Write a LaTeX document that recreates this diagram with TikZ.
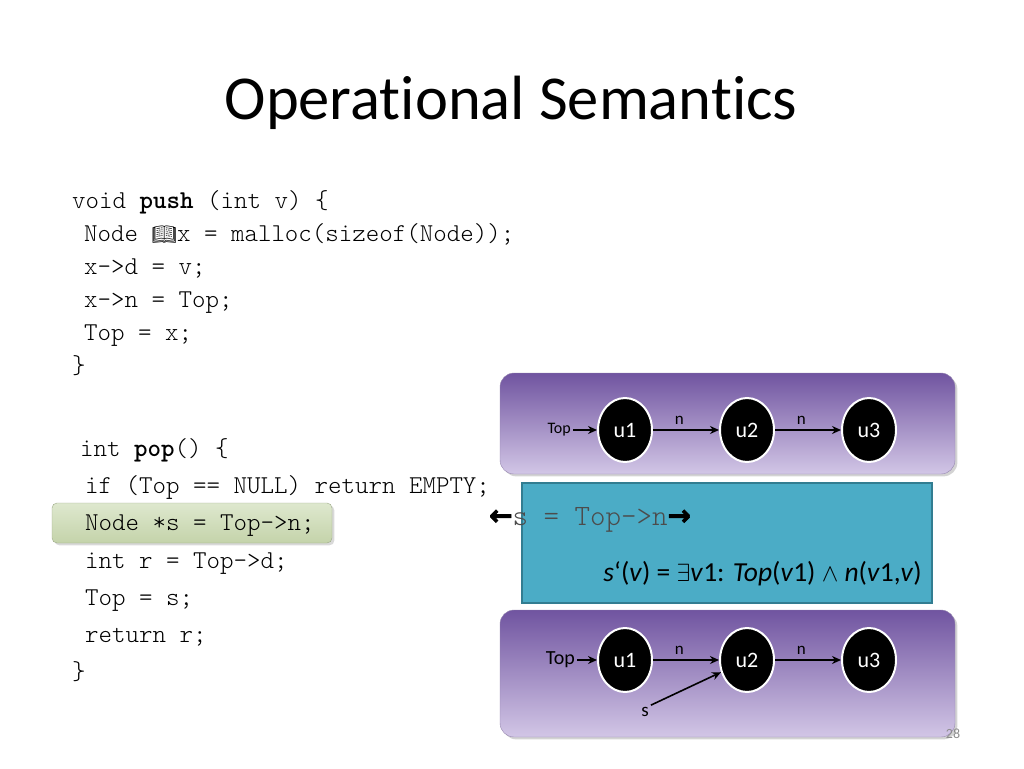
\documentclass[tikz,border=0pt]{standalone}
\usepackage{fontspec}
\setmainfont{Carlito}[Ligatures=NoCommon]
\setmonofont{Latin Modern Mono Light}
\newfontfamily\emojifont{Noto Emoji}
\newfontfamily\arrowfont{DejaVu Sans Bold}[FakeBold=2.5]
\usetikzlibrary{positioning,shapes.geometric,shadows,arrows.meta}
\definecolor{purpleTop}{RGB}{112,84,160}
\definecolor{purpleBot}{RGB}{210,198,230}
\definecolor{purpleEdge}{RGB}{150,135,175}
\definecolor{boxBlue}{RGB}{75,172,198}
\definecolor{boxEdge}{RGB}{50,125,145}
\definecolor{hlTop}{RGB}{222,232,206}
\definecolor{hlBot}{RGB}{196,211,170}

\begin{document}
\begin{tikzpicture}[x=1pt,y=-1pt,
code/.style={font=\ttfamily\fontsize{25.7}{26}\selectfont, anchor=base west, inner sep=0pt},
panel/.style={rounded corners=14pt, top color=purpleTop, bottom color=purpleBot, draw=purpleEdge, drop shadow={opacity=0.35}},
cell/.style={ellipse, fill=black, draw=white, line width=2pt, minimum width=54pt, minimum height=64pt, text=white, font=\fontsize{22}{24}\selectfont, inner sep=0pt},
lbl/.style={font=\fontsize{17}{18}\selectfont, inner sep=2pt},
link/.style={-{Stealth[length=9pt,width=8pt]}, line width=1.6pt},
node distance=66pt]
\useasboundingbox (0,0) rectangle (1024,768);
% title
\node (title) [anchor=base, font=\fontsize{62.5}{62}\selectfont] at (511,119) {Operational Semantics};
% push
\node (push1) [code] at (72,208) {void \textbf{push} (int v) \{};
\node (push2) [code] at (84,241) {Node {\emojifont\fontsize{20}{20}\selectfont 📖}x = malloc(sizeof(Node));};
\node (push3) [code] at (84,274) {x->d = v;};
\node (push4) [code] at (84,307) {x->n = Top;};
\node (push5) [code] at (84,340) {Top = x;};
\node (push6) [code] at (72,373) {\}};
% pop
\draw [rounded corners=5pt, top color=hlTop, bottom color=hlBot, draw=hlBot!80!black, drop shadow={opacity=0.3}] (52,503) rectangle (332,543);
\node (pop1) [code] at (80,456) {int \textbf{pop}() \{};
\node (pop2) [code] at (85,493) {if (Top == NULL) return EMPTY;};
\node (pop3) [code] at (85,530) {Node *s = Top->n;};
\node (pop4) [code] at (85,568) {int r = Top->d;};
\node (pop5) [code] at (85,605) {Top = s;};
\node (pop6) [code] at (85,642) {return r;};
\node (pop7) [code] at (72,679) {\}};
% panels
\node (before) [panel, minimum width=455pt, minimum height=101pt] at (727.5,423.5) {};
\node (after) [panel, minimum width=455pt, minimum height=127pt] at (727.5,673.5) {};
\node (rule) [draw=boxEdge, line width=1.5pt, fill=boxBlue, minimum width=410pt, minimum height=120pt] at (727,543) {};
\node (stmt) [anchor=base west, inner sep=0pt] at (489,525) {{\arrowfont\fontsize{28}{28}\selectfont ←}{\ttfamily\fontsize{29.5}{30}\selectfont\color{black!70}s = Top->n}{\arrowfont\fontsize{28}{28}\selectfont →}};
\node (formula) [anchor=base east, inner sep=0pt, font=\fontsize{27.5}{28}\selectfont] at (922,581) {\textit{s}‘(\textit{v}) = $\exists$\textit{v}1: \textit{Top}(\textit{v}1) $\wedge$ \textit{n}(\textit{v}1,\textit{v})};
% before
\node (U1) [cell] at (625,430) {u1};
\node (U2) [cell, right=of U1] {u2};
\node (U3) [cell, right=of U2] {u3};
\node (T) [lbl, font=\fontsize{16}{16}\selectfont, left=24pt of U1] {Top};
\draw [link] (T) -- (U1);
\draw [link] (U1) -- node [lbl, above=3pt, pos=0.4] {n} (U2);
\draw [link] (U2) -- node [lbl, above=3pt, pos=0.4] {n} (U3);
% after
\node (U1s) [cell] at (625,660) {u1};
\node (U2s) [cell, right=of U1s] {u2};
\node (U3s) [cell, right=of U2s] {u3};
\node (Ts) [lbl, font=\fontsize{20}{20}\selectfont, left=20pt of U1s] {Top};
\node (S) [lbl, font=\fontsize{19}{19}\selectfont] at (645,712) {s};
\draw [link] (Ts) -- (U1s);
\draw [link] (U1s) -- node [lbl, above=3pt, pos=0.4] {n} (U2s);
\draw [link] (U2s) -- node [lbl, above=3pt, pos=0.4] {n} (U3s);
\draw [link] (S.north east) -- (U2s);
% page number
\node (page) [font=\fontsize{14}{14}\selectfont, text=black!45] at (953,734) {28};
\end{tikzpicture}
\end{document}
